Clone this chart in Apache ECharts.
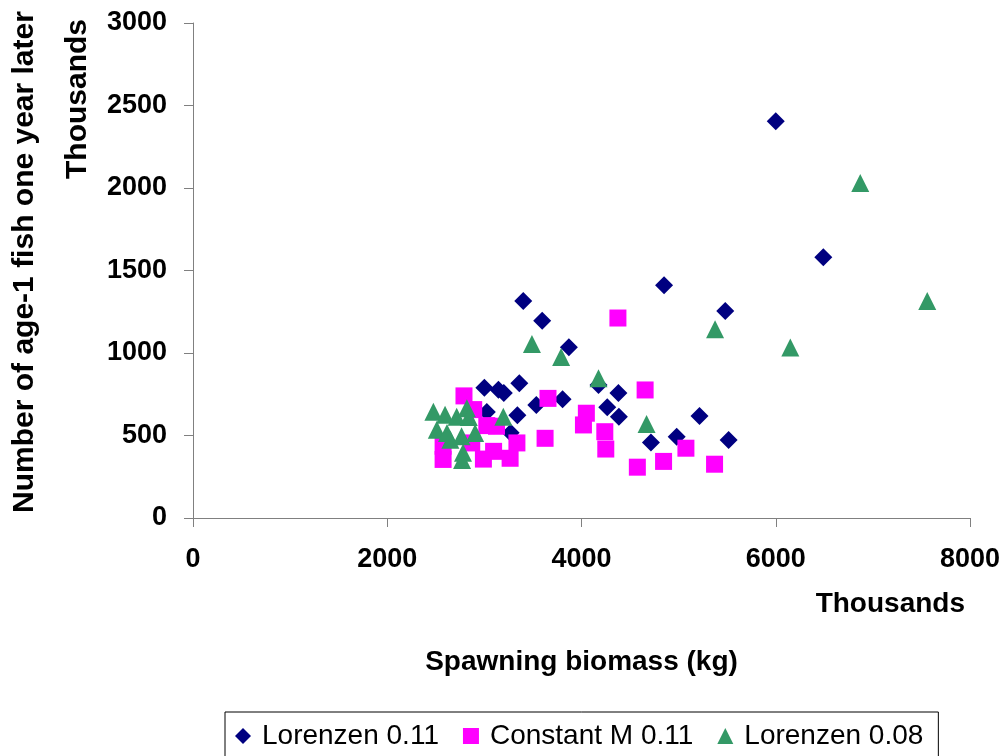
<!DOCTYPE html>
<html>
<head>
<meta charset="utf-8">
<script src="https://cdn.jsdelivr.net/npm/echarts@6/dist/echarts.min.js"></script>
<style>
html,body{margin:0;padding:0;background:#fff;}
#chart{width:1005px;height:756px;}
</style>
</head>
<body>
<div id="chart"></div>
<script>
// Spawning biomass (thousands kg), age-1 fish one year later (thousands)
const lorenzen011 = [
  [3000,790],[3145,778],[3200,757],[3360,816],[3025,642],[3340,622],[3535,685],[3805,719],
  [3270,516],[3400,1315],[3595,1195],[3870,1035],[4175,806],[4265,671],[4380,757],[4385,614],
  [4715,458],[4980,493],[5215,618],[5515,473],[4850,1410],[5480,1255],[6490,1580],[6000,2405]
];
const constantM011 = [
  [2790,740],[2890,657],[3025,560],[3125,556],[2575,435],[2575,355],[2870,455],[2990,357],
  [3095,404],[3265,362],[3335,455],[3625,483],[3655,725],[4050,635],[4020,564],[4240,523],
  [4250,418],[4375,1212],[4655,776],[4575,308],[4845,343],[5075,423],[5370,326]
];
const lorenzen008 = [
  [2475,644],[2595,626],[2715,614],[2820,665],[2840,612],[2510,535],[2615,515],[2765,495],
  [2905,515],[2650,475],[2780,395],[2770,352],[3195,614],[3490,1055],[3790,976],[4175,847],
  [4670,570],[5375,1144],[6150,1034],[6870,2030],[7560,1315]
];
const seriesNames = ['Lorenzen 0.11','Constant M 0.11','Lorenzen 0.08'];
const xTitle = 'Spawning biomass (kg)';
const yTitle = 'Number of age-1 fish one year later';
const unitLabel = 'Thousands';

const FONT = 'Arial, "Liberation Sans", sans-serif';
const chart = echarts.init(document.getElementById('chart'), null, {renderer:'canvas'});
const axisCommon = {
  axisLine:{show:true,lineStyle:{color:'#808080',width:1}},
  axisTick:{show:true,inside:false,length:9,lineStyle:{color:'#808080',width:1}},
  splitLine:{show:false}
};
const plain = v => String(v);
chart.setOption({
  backgroundColor:'#fff',
  animation:false,
  grid:{left:193,right:35,top:23,bottom:238,containLabel:false,outerBoundsMode:'none'},
  xAxis:Object.assign({
    type:'value',min:0,max:8000,interval:2000,
    name:xTitle,nameLocation:'middle',nameGap:130,
    nameTextStyle:{fontFamily:FONT,fontWeight:'bold',fontSize:28,color:'#000'},
    axisLabel:{margin:28,formatter:plain,fontFamily:FONT,fontWeight:'bold',fontSize:27,color:'#000'}
  },axisCommon),
  yAxis:Object.assign({
    type:'value',min:0,max:3000,interval:500,
    axisLabel:{margin:26,formatter:plain,fontFamily:FONT,fontWeight:'bold',fontSize:27,color:'#000'}
  },axisCommon),
  legend:{
    left:225,top:712,
    data:seriesNames,
    orient:'horizontal',
    borderColor:'#000',borderWidth:1,
    padding:[10,15,10,10],
    itemGap:24,itemWidth:16,itemHeight:16,
    textStyle:{fontFamily:FONT,fontSize:28,color:'#000',padding:[0,0,0,6]}
  },
  graphic:[
    {type:'text',x:25,y:262,rotation:Math.PI/2,style:{text:yTitle,fontFamily:FONT,fontWeight:'bold',fontSize:30,fill:'#000',align:'center',verticalAlign:'middle'}},
    {type:'text',right:40,top:590,style:{text:unitLabel,fontFamily:FONT,fontWeight:'bold',fontSize:28,fill:'#000'}},
    {type:'text',x:78,y:99,rotation:Math.PI/2,style:{text:unitLabel,fontFamily:FONT,fontWeight:'bold',fontSize:30,fill:'#000',align:'center',verticalAlign:'middle'}}
  ],
  series:[
    {name:seriesNames[0],type:'scatter',data:lorenzen011,symbol:'diamond',symbolSize:18,itemStyle:{color:'#000080',opacity:1}},
    {name:seriesNames[1],type:'scatter',data:constantM011,symbol:'rect',symbolSize:17,itemStyle:{color:'#FF00FF',opacity:1}},
    {name:seriesNames[2],type:'scatter',data:lorenzen008,symbol:'triangle',symbolSize:18,itemStyle:{color:'#339966',opacity:1}}
  ]
});
</script>
</body>
</html>
